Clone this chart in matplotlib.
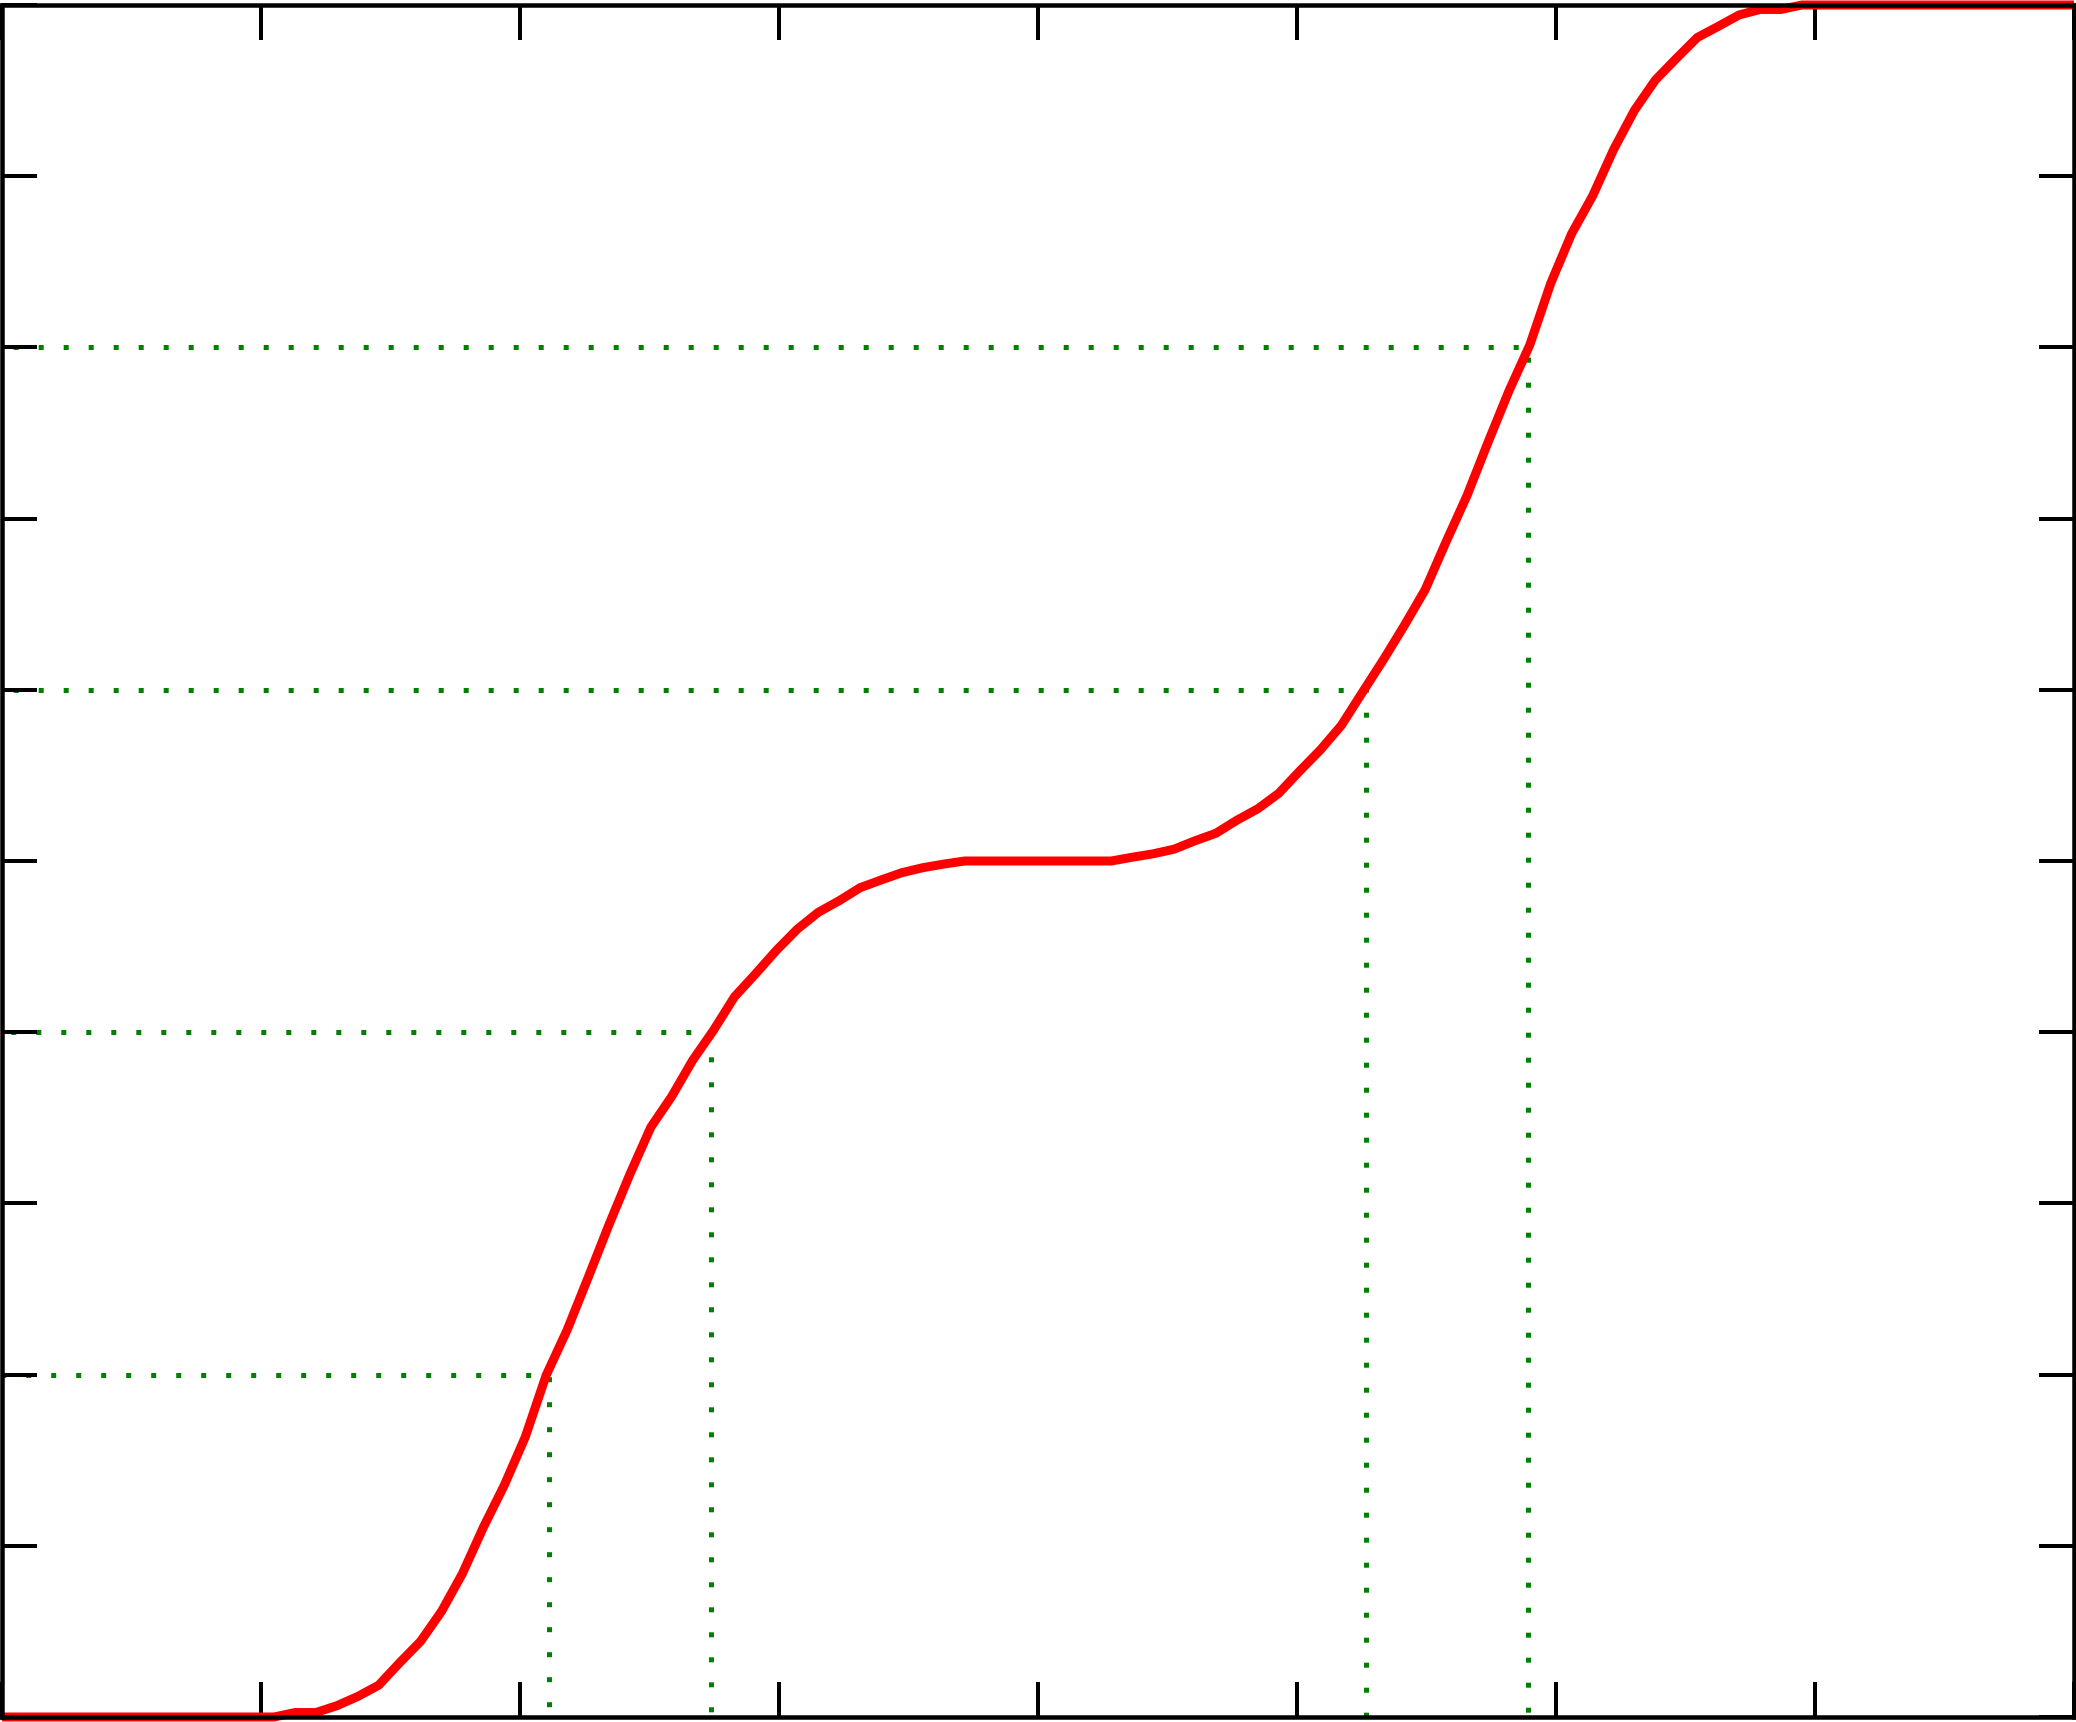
import numpy as np
import matplotlib
matplotlib.use("Agg")
import matplotlib.pyplot as plt

# ---- data ----
x_start, x_end, n_points = 0.0, 8.0, 100
cdf_values = [
    0.0, 0.0, 0.0, 0.0, 0.0, 0.0, 0.0, 0.0, 0.0, 0.0,
    0.0, 0.0, 0.0, 0.0, 0.0026, 0.0026, 0.0066, 0.012, 0.0186, 0.0317,
    0.0442, 0.0617, 0.0838, 0.1108, 0.1354, 0.1635, 0.1996, 0.226, 0.2565, 0.2875,
    0.317, 0.3445, 0.3625, 0.3836, 0.4012, 0.4207, 0.434, 0.4478, 0.4602, 0.4700,
    0.4768, 0.4844, 0.4889, 0.4932, 0.4961, 0.4982, 0.5, 0.5, 0.5, 0.5,
    0.5, 0.5, 0.5, 0.5, 0.5022, 0.5042, 0.5069, 0.5118, 0.5162, 0.5238,
    0.5305, 0.5395, 0.5525, 0.5650, 0.5793, 0.5985, 0.6175, 0.6375, 0.6585, 0.6865,
    0.7135, 0.7445, 0.7745, 0.8015, 0.8375, 0.8665, 0.8885, 0.9155, 0.9385, 0.9562,
    0.9688, 0.981, 0.9875, 0.9942, 0.9974, 0.9974, 1.0, 1.0, 1.0, 1.0,
    1.0, 1.0, 1.0, 1.0, 1.0, 1.0, 1.0, 1.0, 1.0, 1.0,
]
levels = [0.2, 0.4, 0.6, 0.8]
level_x = [2.113, 2.739, 5.268, 5.892]
dash_offsets = [0.26, 3.24, 2.76, 2.76]

x_ticks = list(range(0, 9))
y_ticks = [round(0.1 * k, 1) for k in range(0, 11)]

# ---- figure ----
W, H, DPI = 2076, 1722, 100
fig = plt.figure(figsize=(W / DPI, H / DPI), dpi=DPI)
ax = fig.add_axes([2 / W, 5 / H, 2072 / W, 1712 / H])

x = np.linspace(x_start, x_end, n_points)

px = 72.0 / DPI  # points per pixel
green_lw = 5 * px
for lv, xc, off in zip(levels, level_x, dash_offsets):
    ax.plot([x_start, xc, xc], [lv, lv, 0.0], color="#008000", lw=green_lw,
            linestyle=(off, (1, 4)), dash_capstyle="butt", solid_capstyle="butt",
            zorder=1.5)

ax.plot(x, cdf_values, color="#ff0000", lw=9 * px, clip_on=False,
        solid_capstyle="butt", solid_joinstyle="miter", zorder=2)

ax.set_xlim(x_start, x_end)
ax.set_ylim(0, 1)
ax.set_xticks(x_ticks)
ax.set_yticks(y_ticks)
ax.tick_params(which="both", direction="in", top=True, right=True,
               bottom=True, left=True,
               labelleft=False, labelbottom=False, labeltop=False, labelright=False,
               length=35 * px, width=4 * px, color="black")
for s in ax.spines.values():
    s.set_linewidth(4.5 * px)
    s.set_color("black")

fig.savefig("out.png", dpi=DPI, facecolor="white")
